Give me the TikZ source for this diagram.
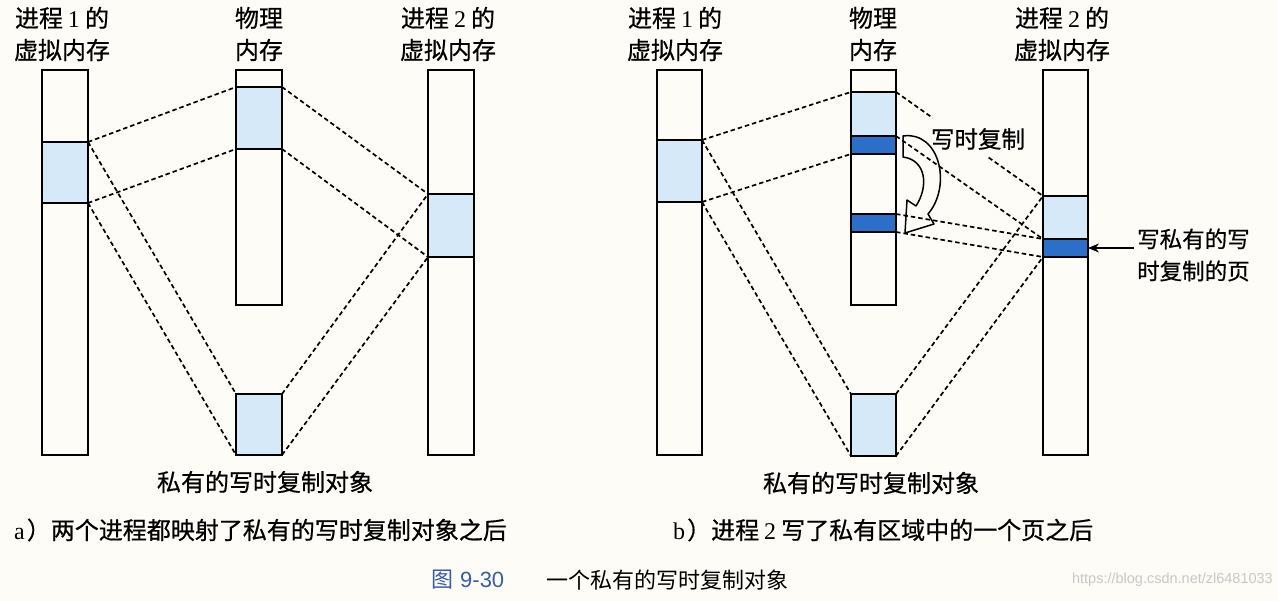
\documentclass[tikz,border=0pt]{standalone}
\usepackage{fontspec}
\setmainfont{Liberation Serif}
\newfontfamily\cjk[FakeBold=0.6]{Noto Sans CJK SC}
\newfontfamily\cjkr{Noto Sans CJK SC}
\newfontfamily\lsans{Liberation Sans}
\usetikzlibrary{arrows.meta}
\definecolor{bgc}{RGB}{253,252,247}
\definecolor{lightb}{RGB}{214,233,248}
\definecolor{darkb}{RGB}{44,111,200}
\definecolor{capblue}{RGB}{58,92,168}
\definecolor{wmgray}{RGB}{200,200,200}
\begin{document}
\begin{tikzpicture}[x=1pt,y=-1pt,
  col/.style={draw, line width=1.7pt, inner sep=0pt, outer sep=0pt, anchor=north west, minimum width=46pt},
  lite/.style={col, fill=lightb},
  dark/.style={col, fill=darkb},
  dl/.style={dash pattern=on 4.5pt off 3pt, line width=1.7pt},
  lbl/.style={font=\cjk\fontsize{24}{32}\selectfont, inner sep=0pt, align=center},
  captxt/.style={font=\cjk\fontsize{24}{28}\selectfont, inner sep=0pt, anchor=west}]
\fill[bgc] (0,0) rectangle (1278,601);
\useasboundingbox (0,0) rectangle (1278,601);

% ---------------- panel a ----------------
\node[col, minimum height=385pt] (a1) at (42,70) {};
\node[lite, minimum height=61pt] (a1s) at (42,142) {};
\node[col, minimum height=235pt] (ap) at (236,70) {};
\node[lite, minimum height=62pt] (aps) at (236,87) {};
\node[col, minimum height=385pt] (a2) at (428,70) {};
\node[lite, minimum height=63pt] (a2s) at (428,194) {};
\node[lite, minimum height=61pt] (ao) at (236,394) {};

\node[lbl] (a1t) at (62,34) {进程\hspace{5pt}{\rmfamily 1}\hspace{5pt}的\\虚拟内存};
\node[lbl] (apt) at (259,34) {物理\\内存};
\node[lbl] (a2t) at (448,34) {进程\hspace{5pt}{\rmfamily 2}\hspace{5pt}的\\虚拟内存};
\node[lbl] (aot) at (265,482) {私有的写时复制对象};
\node[captxt] (acap) at (14,530) {{\rmfamily a}\hspace{2pt}）两个进程都映射了私有的写时复制对象之后};

\draw[dl] (a1s.north east) -- (aps.north west);
\draw[dl] (a1s.south east) -- (aps.south west);
\draw[dl] (a1s.north east) -- (ao.north west);
\draw[dl] (a1s.south east) -- (ao.south west);
\draw[dl] (aps.north east) -- (a2s.north west);
\draw[dl] (aps.south east) -- (a2s.south west);
\draw[dl] (ao.north east) -- (a2s.north west);
\draw[dl] (ao.south east) -- (a2s.south west);

% ---------------- panel b ----------------
\node[col, minimum width=45pt, minimum height=385pt] (b1) at (657,70) {};
\node[lite, minimum width=45pt, minimum height=62pt] (b1s) at (657,140) {};
\node[col, minimum width=45pt, minimum height=235pt] (bp) at (851,70) {};
\node[lite, minimum width=45pt, minimum height=44pt] (bpl) at (851,92) {};
\node[dark, minimum width=45pt, minimum height=18pt] (bpd) at (851,136) {};
\node[dark, minimum width=45pt, minimum height=18pt] (bpd2) at (851,214) {};
\node[col, minimum width=45pt, minimum height=385pt] (b2) at (1043,70) {};
\node[lite, minimum width=45pt, minimum height=43pt] (b2l) at (1043,196) {};
\node[dark, minimum width=45pt, minimum height=18pt] (b2d) at (1043,239) {};
\node[lite, minimum width=45pt, minimum height=62pt] (bo) at (851,394) {};

\node[lbl] (b1t) at (675,34) {进程\hspace{5pt}{\rmfamily 1}\hspace{5pt}的\\虚拟内存};
\node[lbl] (bpt) at (873,34) {物理\\内存};
\node[lbl] (b2t) at (1062,34) {进程\hspace{5pt}{\rmfamily 2}\hspace{5pt}的\\虚拟内存};
\node[lbl] (bot) at (871,483) {私有的写时复制对象};
\node[captxt] (bcap) at (673,530) {{\rmfamily b}\hspace{2pt}）进程\hspace{5pt}{\rmfamily 2}\hspace{5pt}写了私有区域中的一个页之后};
\node[lbl, font=\cjk\fontsize{23.5}{28}\selectfont] (cow) at (978,139) {写时复制};
\node[lbl, font=\cjk\fontsize{22.5}{32}\selectfont, anchor=west] (wl) at (1137,255) {写私有的写\\时复制的页};
\coordinate (warr) at (1134,248);

\path (bpl.north east) -- (b2l.north west) coordinate[pos=0.25] (g1) coordinate[pos=0.63] (g2);
\draw[dl] (b1s.north east) -- (bpl.north west);
\draw[dl] (b1s.south east) -- (bpd.south west);
\draw[dl] (b1s.north east) -- (bo.north west);
\draw[dl] (b1s.south east) -- (bo.south west);
\draw[dl] (bpl.north east) -- (g1);
\draw[dl] (g2) -- (b2l.north west);
\draw[dl] (bpd.north east) -- (b2d.north west);
\draw[dl] (bpd2.north east) -- (b2d.north west);
\draw[dl] (bpd2.south east) -- (b2d.south west);
\draw[dl] (bo.north east) -- (b2l.north west);
\draw[dl] (bo.south east) -- (b2d.south west);

% copy-on-write hollow arrow
\draw[line width=1.5pt, line join=round]
  (903,136) .. controls (940,131) and (952,186) .. (928,214)
  -- (934,224) -- (905,233) -- (907,200) -- (916,206)
  .. controls (929,186) and (926,160) .. (903,157) -- cycle;

\draw[line width=1.7pt, -{Stealth[length=11pt,width=9pt]}] (warr) -- (b2d.east);

% ---------------- caption ----------------
\node[captxt, font=\cjkr\fontsize{22}{26}\selectfont, text=capblue] (fig) at (431,580) {图\hspace{7pt}{\lsans 9-30}};
\node[captxt, font=\cjkr\fontsize{22}{26}\selectfont] (figt) at (546,580) {一个私有的写时复制对象};
\node[anchor=east, inner sep=0pt, text=wmgray, font=\lsans\fontsize{14.5}{16}\selectfont] (wm) at (1273,580) {https://blog.csdn.net/zl6481033};
\end{tikzpicture}
\end{document}
